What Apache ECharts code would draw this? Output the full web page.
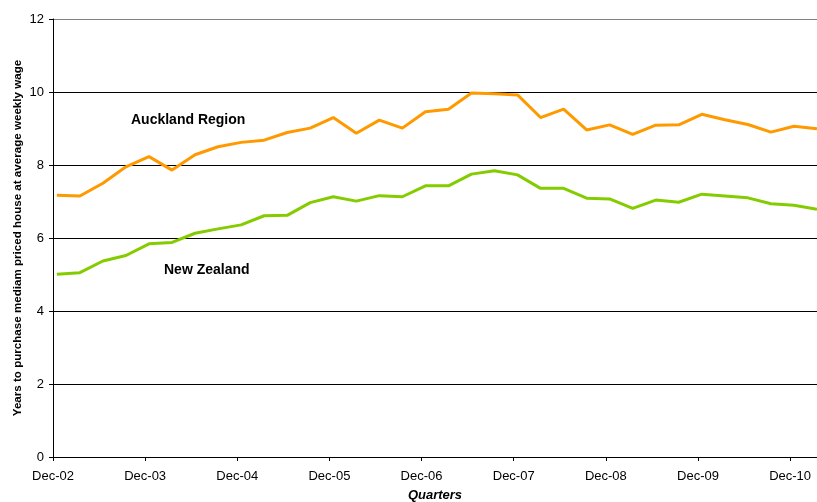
<!DOCTYPE html>
<html>
<head>
<meta charset="utf-8">
<title>Years to purchase median priced house</title>
<script src="https://cdn.jsdelivr.net/npm/echarts@6/dist/echarts.min.js"></script>
<style>
  html, body { margin: 0; padding: 0; background: #fff; }
  #chart { width: 817px; height: 502px; }
</style>
</head>
<body>
<div id="chart"></div>
<script>
// Quarterly observations, Dec 2002 to Mar 2011
const quarters = [
  'Dec-02', 'Mar-03', 'Jun-03', 'Sep-03', 'Dec-03', 'Mar-04', 'Jun-04', 'Sep-04',
  'Dec-04', 'Mar-05', 'Jun-05', 'Sep-05', 'Dec-05', 'Mar-06', 'Jun-06', 'Sep-06',
  'Dec-06', 'Mar-07', 'Jun-07', 'Sep-07', 'Dec-07', 'Mar-08', 'Jun-08', 'Sep-08',
  'Dec-08', 'Mar-09', 'Jun-09', 'Sep-09', 'Dec-09', 'Mar-10', 'Jun-10', 'Sep-10',
  'Dec-10', 'Mar-11'
];

// Years of average weekly wage needed to buy the median priced house
const aucklandRegion = [
  7.17, 7.15, 7.50, 7.95, 8.23, 7.86, 8.28, 8.50,
  8.62, 8.68, 8.89, 9.01, 9.30, 8.87, 9.23, 9.01,
  9.46, 9.53, 9.97, 9.95, 9.92, 9.30, 9.53, 8.96,
  9.10, 8.84, 9.09, 9.10, 9.39, 9.24, 9.11, 8.90,
  9.06, 8.99
];
const newZealand = [
  5.01, 5.05, 5.37, 5.52, 5.84, 5.88, 6.13, 6.25,
  6.36, 6.61, 6.62, 6.97, 7.13, 7.01, 7.16, 7.13,
  7.43, 7.43, 7.75, 7.84, 7.73, 7.36, 7.36, 7.09,
  7.07, 6.81, 7.04, 6.98, 7.20, 7.15, 7.10, 6.94,
  6.90, 6.79
];

// Year-end tick labels on the time axis
const yearTicks = ['Dec-02', 'Dec-03', 'Dec-04', 'Dec-05', 'Dec-06', 'Dec-07', 'Dec-08', 'Dec-09', 'Dec-10'];
const yTicks = [0, 2, 4, 6, 8, 10, 12];

// Time axis is measured in months from December 2002; observations fall mid-month
const monthOf = i => 3 * i + 0.5;
const tickMonths = yearTicks.map((_, i) => 12 * i);
const tickLabelOf = {};
yearTicks.forEach((t, i) => { tickLabelOf[12 * i] = t; });

const FONT = '"Liberation Sans", Arial, Helvetica, sans-serif';

const chart = echarts.init(document.getElementById('chart'), null, { renderer: 'canvas' });

chart.setOption({
  animation: false,
  backgroundColor: '#ffffff',
  textStyle: { fontFamily: FONT, color: '#000' },
  grid: { left: 53, right: 0, top: 19, bottom: 45, containLabel: false, outerBoundsMode: 'none' },
  xAxis: {
    type: 'value',
    min: 0,
    max: monthOf(quarters.length - 1),
    name: 'Quarters',
    nameLocation: 'middle',
    nameGap: 32,
    nameMoveOverlap: false,
    nameTextStyle: { fontFamily: FONT, fontSize: 13, fontWeight: 'bold', fontStyle: 'italic', color: '#000' },
    axisLine: { show: true, onZero: false, lineStyle: { color: '#000', width: 1 } },
    axisTick: { show: true, inside: false, length: 4, customValues: tickMonths, lineStyle: { color: '#000' } },
    axisLabel: {
      show: true,
      margin: 13,
      fontFamily: FONT,
      fontSize: 13,
      color: '#000',
      customValues: tickMonths,
      formatter: v => tickLabelOf[v] || ''
    },
    splitLine: { show: false }
  },
  yAxis: {
    type: 'value',
    min: yTicks[0],
    max: yTicks[yTicks.length - 1],
    interval: 2,
    name: 'Years to purchase mediam priced house at average weekly wage',
    nameLocation: 'middle',
    nameGap: 29,
    nameMoveOverlap: false,
    nameTextStyle: { fontFamily: FONT, fontSize: 11.6, fontWeight: 'bold', color: '#000' },
    axisLine: { show: true, lineStyle: { color: '#000', width: 1 } },
    axisTick: { show: true, inside: false, length: 4, lineStyle: { color: '#000' } },
    axisLabel: { margin: 9, fontFamily: FONT, fontSize: 13, color: '#000' },
    splitLine: {
      show: true,
      lineStyle: { color: ['#000', '#000', '#000', '#000', '#000', '#000', '#808080'], width: 1 }
    }
  },
  series: [
    {
      name: 'Auckland Region',
      type: 'line',
      symbol: 'none',
      clip: true,
      data: aucklandRegion.map((v, i) => [monthOf(i), v]),
      lineStyle: { color: '#FF9900', width: 3 },
      itemStyle: { color: '#FF9900' },
      z: 3
    },
    {
      name: 'New Zealand',
      type: 'line',
      symbol: 'none',
      clip: true,
      data: newZealand.map((v, i) => [monthOf(i), v]),
      lineStyle: { color: '#84CC00', width: 3 },
      itemStyle: { color: '#84CC00' },
      z: 3
    }
  ],
  graphic: [
    {
      type: 'text',
      left: 131,
      top: 113,
      style: { text: 'Auckland Region', font: 'bold 14px ' + FONT, fill: '#000' }
    },
    {
      type: 'text',
      left: 164,
      top: 263,
      style: { text: 'New Zealand', font: 'bold 14px ' + FONT, fill: '#000' }
    }
  ]
});
</script>
</body>
</html>
